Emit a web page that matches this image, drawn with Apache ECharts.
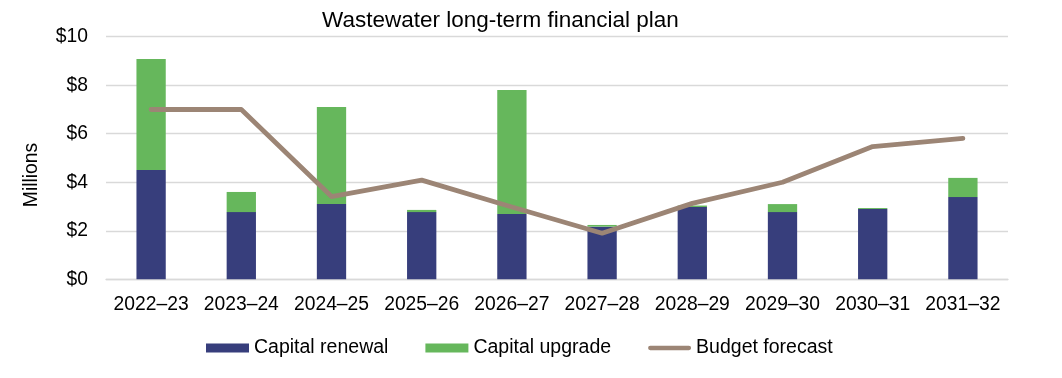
<!DOCTYPE html>
<html>
<head>
<meta charset="utf-8">
<script src="https://cdn.jsdelivr.net/npm/echarts@6/dist/echarts.min.js"></script>
<style>
html,body{margin:0;padding:0;background:#fff;}
#chart{width:1062px;height:378px;}
</style>
</head>
<body>
<div id="chart"></div>
<script>
const categories = ['2022–23','2023–24','2024–25','2025–26','2026–27','2027–28','2028–29','2029–30','2030–31','2031–32'];
const capitalRenewal = [4.51, 2.77, 3.10, 2.77, 2.69, 2.17, 2.98, 2.77, 2.90, 3.39];
const capitalUpgrade = [4.57, 0.83, 4.00, 0.09, 5.11, 0.07, 0.06, 0.33, 0.04, 0.79];
const budgetForecast = [7.0, 7.0, 3.41, 4.09, 2.98, 1.90, 3.13, 4.00, 5.47, 5.81];
const yTicks = {min: 0, max: 10, interval: 2};

const FONT = "'Liberation Sans', Arial, sans-serif";
const chart = echarts.init(document.getElementById('chart'), null, {renderer: 'canvas'});
chart.setOption({
  animation: false,
  backgroundColor: '#ffffff',
  textStyle: {fontFamily: FONT},
  title: {
    text: 'Wastewater long-term financial plan',
    left: 317, top: 4,
    textStyle: {fontFamily: FONT, fontSize: 22.5, fontWeight: 'normal', color: '#000'}
  },
  graphic: [{
    type: 'text',
    x: 31.5, y: 175,
    rotation: Math.PI / 2,
    style: {text: 'Millions', font: '19.3px ' + FONT, fill: '#000', align: 'center', verticalAlign: 'middle'}
  }],
  legend: {
    left: 206, top: 338, padding: 0,
    itemWidth: 43, itemHeight: 9, itemGap: 37,
    textStyle: {fontFamily: FONT, fontSize: 19.5, color: '#000'},
    data: [
      {name: 'Capital renewal', icon: 'rect'},
      {name: 'Capital upgrade', icon: 'rect'},
      {name: 'Budget forecast', icon: 'path://M0,0L0.01,0L0.01,0.01Z M2.3,2.2L43.7,2.2A2.3,2.3,0,0,1,43.7,6.8L2.3,6.8A2.3,2.3,0,0,1,2.3,2.2Z M45.99,9L46,9L46,8.99Z'}
    ]
  },
  grid: {left: 106, right: 54, top: 36.7, bottom: 98.7, containLabel: false},
  xAxis: {
    type: 'category',
    data: categories,
    axisTick: {show: false},
    axisLine: {lineStyle: {color: '#D9D9D9', width: 1.3}},
    axisLabel: {fontFamily: FONT, fontSize: 19.3, color: '#000', margin: 16, interval: 0}
  },
  yAxis: {
    type: 'value',
    min: yTicks.min, max: yTicks.max, interval: yTicks.interval,
    axisLine: {show: false},
    axisTick: {show: false},
    splitLine: {lineStyle: {color: '#D9D9D9', width: 1.3}},
    axisLabel: {fontFamily: FONT, fontSize: 19.3, color: '#000', margin: 18, formatter: v => '$' + v}
  },
  series: [
    {
      name: 'Capital renewal', type: 'bar', stack: 'cap', barWidth: 29.3,
      itemStyle: {color: '#373E7C'},
      data: capitalRenewal
    },
    {
      name: 'Capital upgrade', type: 'bar', stack: 'cap', barWidth: 29.3,
      itemStyle: {color: '#66B75C'},
      data: capitalUpgrade
    },
    {
      name: 'Budget forecast', type: 'line',
      symbol: 'none',
      lineStyle: {color: '#9C8575', width: 4.8, cap: 'round', join: 'round'},
      itemStyle: {color: '#9C8575'},
      data: budgetForecast
    }
  ]
});
</script>
</body>
</html>
